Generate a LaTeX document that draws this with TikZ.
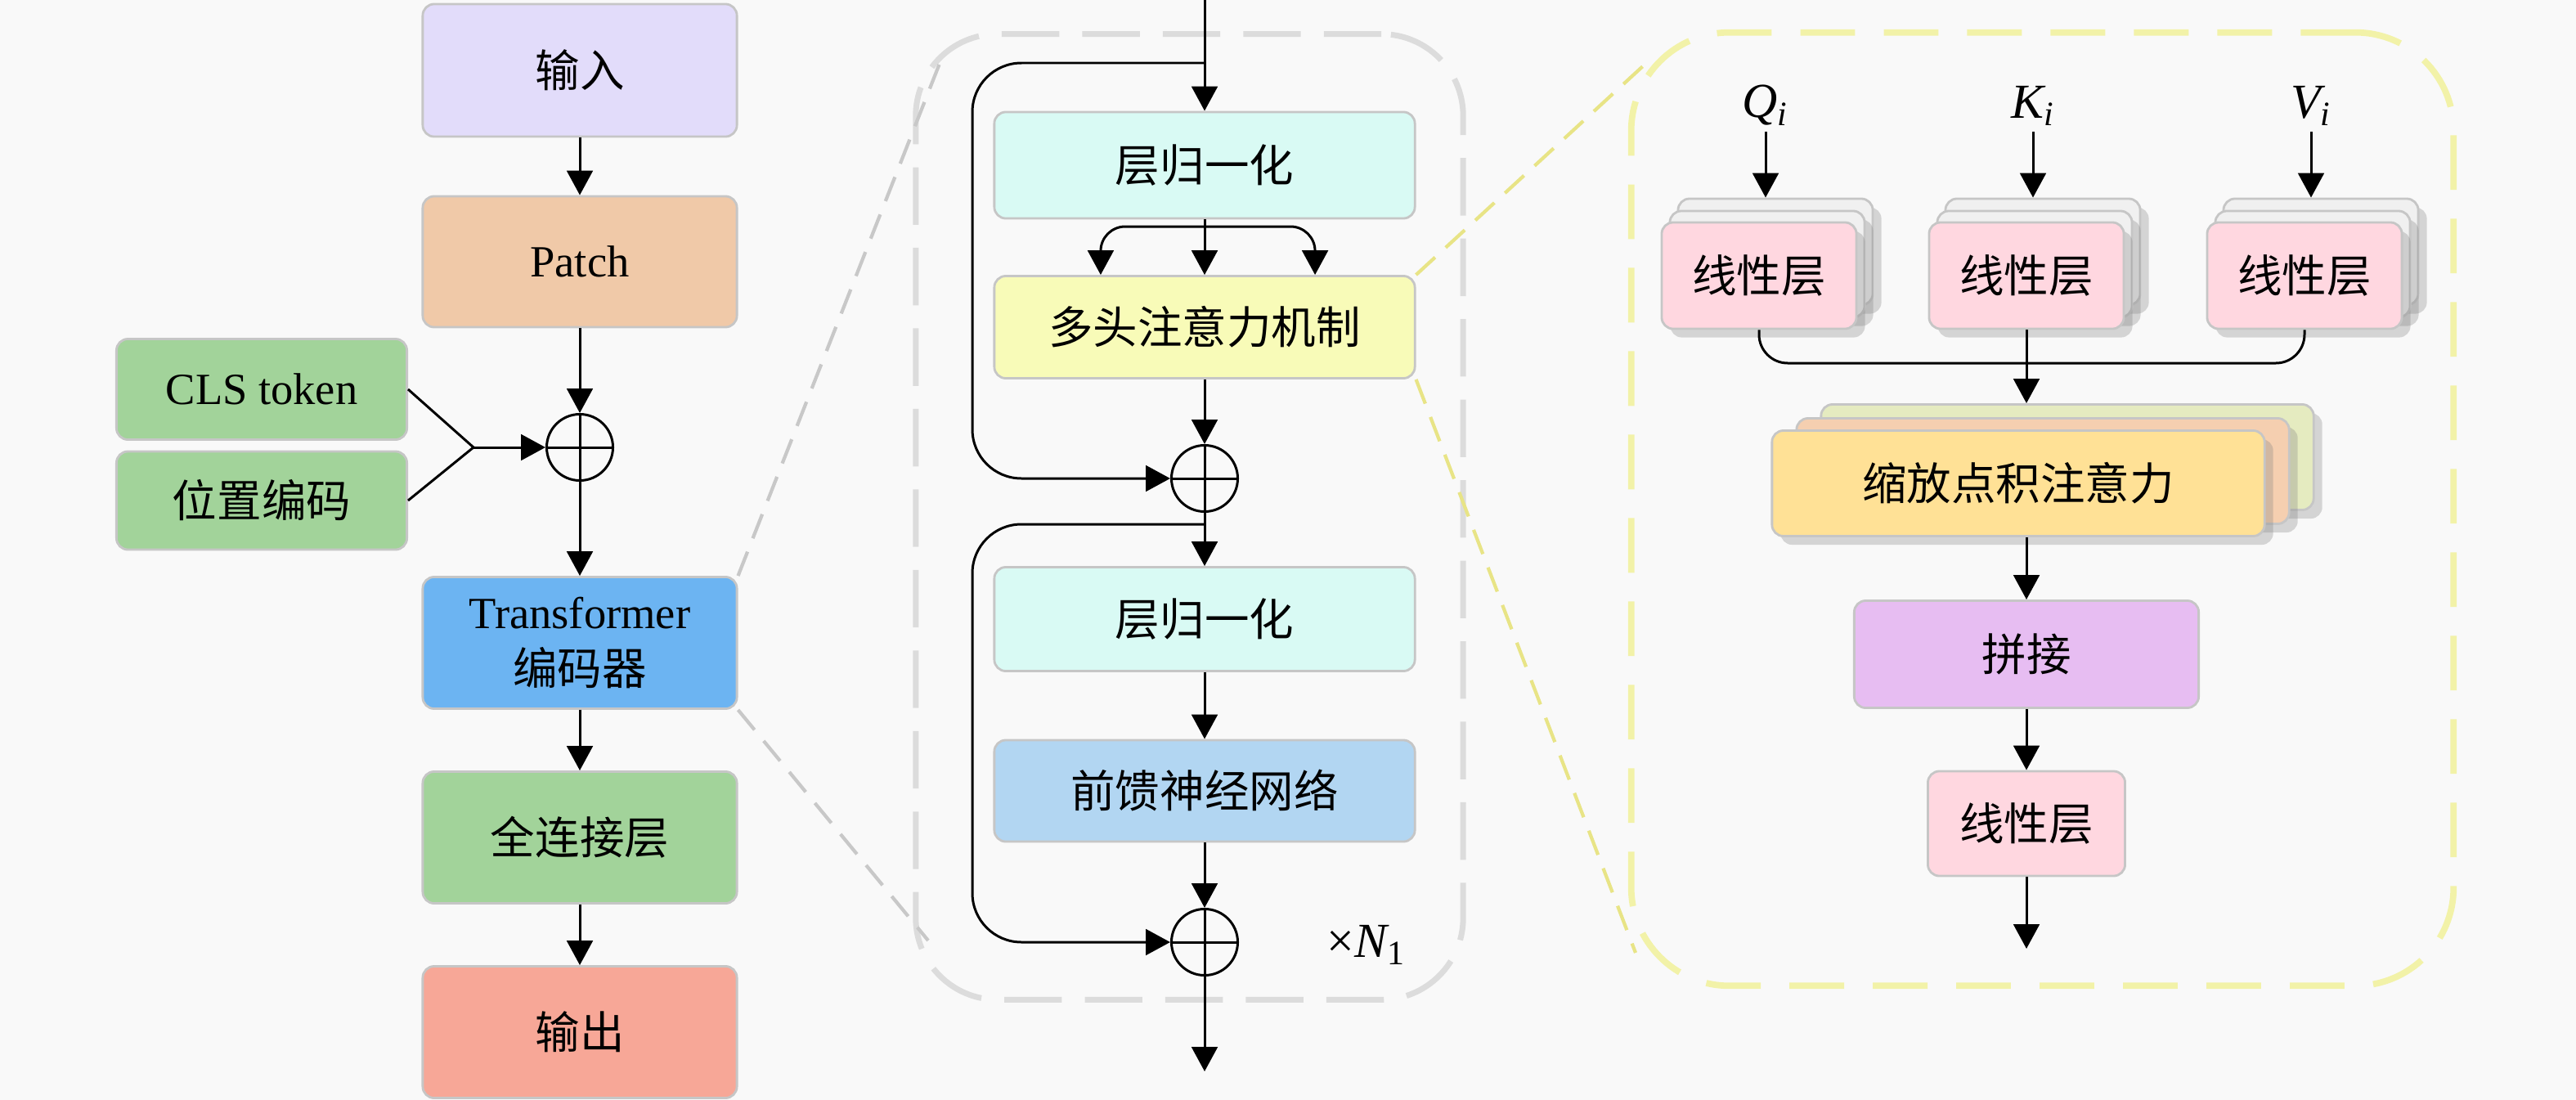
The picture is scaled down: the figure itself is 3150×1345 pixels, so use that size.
\documentclass[tikz,border=0pt]{standalone}
\usepackage{fontspec}
\setmainfont{Liberation Serif}
\newfontfamily\cjk{Noto Sans CJK SC}
\usetikzlibrary{arrows.meta,shadows}

\definecolor{bgc}{HTML}{F9F9F9}
\definecolor{inc}{HTML}{E2DCFA}
\definecolor{patchc}{HTML}{F0C9A8}
\definecolor{grnc}{HTML}{A2D39A}
\definecolor{transc}{HTML}{6CB4F2}
\definecolor{outc}{HTML}{F7A797}
\definecolor{lnc}{HTML}{D9FAF4}
\definecolor{mhac}{HTML}{F8FBB8}
\definecolor{ffnc}{HTML}{B2D6F2}
\definecolor{linc}{HTML}{FFD7E0}
\definecolor{sdf}{HTML}{FFE196}
\definecolor{sdm}{HTML}{F5CFB0}
\definecolor{sdb}{HTML}{E5EBC0}
\definecolor{catc}{HTML}{E7BDF2}
\definecolor{frmgc}{HTML}{DCDCDC}
\definecolor{frmyc}{HTML}{F2F2A8}
\definecolor{zoomgc}{HTML}{C8C8C8}
\definecolor{zoomyc}{HTML}{E8E486}

\begin{document}
\begin{tikzpicture}[x=0.01cm,y=-0.01cm]
  \tikzset{blk/.style={draw=gray!45,line width=0.8pt,rounded corners=4pt,inner sep=0pt,
      align=center,font=\fontsize{15.5}{19.5}\selectfont},
    lbl/.style={inner sep=2pt,font=\fontsize{17}{20}\selectfont},
    arr/.style={-{Triangle[width=9pt,length=8.5pt]},line width=0.85pt},
    ln/.style={line width=0.85pt},
    addc/.style={circle,draw,line width=0.85pt,minimum size=0.81cm,inner sep=0pt,fill=bgc,
      path picture={\draw[line width=0.85pt] (path picture bounding box.north) -- (path picture bounding box.south)
        (path picture bounding box.west) -- (path picture bounding box.east);}},
    shd/.style={drop shadow={shadow xshift=3pt,shadow yshift=-3pt,opacity=.3,fill=gray}},
    ghost/.style={blk,fill=gray!12,minimum width=2.38cm,minimum height=1.3cm,shd},
    frmg/.style={draw=frmgc,line width=2pt,dash pattern=on 20pt off 8pt,rounded corners=1cm},
    frmy/.style={draw=frmyc,line width=2.2pt,dash pattern=on 19pt off 10pt,rounded corners=1.2cm},
    zoomg/.style={draw=zoomgc,line width=1.2pt,dash pattern=on 9pt off 5pt},
    zoomy/.style={draw=zoomyc,line width=1.2pt,dash pattern=on 9pt off 5pt}}

  \fill[bgc] (0,0) rectangle (3150,1345);
  \useasboundingbox (0,0) rectangle (3150,1345);

  \node[frmg,minimum width=6.69cm,minimum height=11.8cm] (encfrm) at (1454.5,632) {};
  \node[frmy,minimum width=10.05cm,minimum height=11.65cm] (attfrm) at (2497.5,622.5) {};

  % left column
  \node[blk,fill=inc,minimum width=3.84cm,minimum height=1.62cm] (inp) at (709,86) {\cjk 输入};
  \node[blk,fill=patchc,minimum width=3.84cm,minimum height=1.6cm] (patch) at (709,320) {Patch};
  \node[addc] (add0) at (709,547) {};
  \node[blk,fill=grnc,minimum width=3.55cm,minimum height=1.23cm] (cls) at (320,476) {CLS token};
  \node[blk,fill=grnc,minimum width=3.55cm,minimum height=1.2cm] (pos) at (320,612) {\cjk 位置编码};
  \node[blk,fill=transc,minimum width=3.84cm,minimum height=1.61cm] (trans) at (709,786) {Transformer\\{\cjk 编码器}};
  \node[blk,fill=grnc,minimum width=3.84cm,minimum height=1.61cm] (fc) at (709,1024) {\cjk 全连接层};
  \node[blk,fill=outc,minimum width=3.84cm,minimum height=1.61cm] (outp) at (709,1262) {\cjk 输出};
  \coordinate (jn) at (579,547);

  \draw[arr] (inp) -- (patch);
  \draw[arr] (patch) -- (add0);
  \draw[ln] (cls.east) -- (jn) -- (pos.east);
  \draw[arr] (jn) -- (add0);
  \draw[arr] (add0) -- (trans);
  \draw[arr] (trans) -- (fc);
  \draw[arr] (fc) -- (outp);

  % encoder block
  \node[blk,fill=lnc,minimum width=5.14cm,minimum height=1.3cm] (ln1) at (1473,202) {\cjk 层归一化};
  \node[blk,fill=mhac,minimum width=5.14cm,minimum height=1.25cm] (mha) at (1473,400) {\cjk 多头注意力机制};
  \node[addc] (add1) at (1473,585) {};
  \node[blk,fill=lnc,minimum width=5.14cm,minimum height=1.27cm] (ln2) at (1473,757) {\cjk 层归一化};
  \node[blk,fill=ffnc,minimum width=5.14cm,minimum height=1.24cm] (ffn) at (1473,967) {\cjk 前馈神经网络};
  \node[addc] (add2) at (1473,1152) {};
  \node[lbl] (rep) at (1671,1155) {×{\itshape N}\textsubscript{1}};
  \coordinate (top) at (1473,0);
  \coordinate (br1) at (1473,77);
  \coordinate (fork) at (1473,277);
  \coordinate (br2) at (1473,641);
  \coordinate (bot) at (1473,1310);

  \draw[arr] (top) -- (ln1);
  \draw[arr,rounded corners=0.6cm] (br1) -- (1189,77) |- (add1);
  \draw[arr] (ln1) -- (mha);
  \draw[arr,rounded corners=0.3cm] (fork) -| ([xshift=-1.27cm]mha.north);
  \draw[arr,rounded corners=0.3cm] (fork) -| ([xshift=1.35cm]mha.north);
  \draw[arr] (mha) -- (add1);
  \draw[arr] (add1) -- (ln2);
  \draw[arr,rounded corners=0.6cm] (br2) -- (1189,641) |- (add2);
  \draw[arr] (ln2) -- (ffn);
  \draw[arr] (ffn) -- (add2);
  \draw[arr] (add2) -- (bot);

  % zoom lines
  \coordinate (gz1) at (1152,70);
  \coordinate (gz2) at (1135,1150);
  \coordinate (yz1) at (2010,80);
  \coordinate (yz2) at (2000,1165);
  \draw[zoomg] (trans.north east) -- (gz1);
  \draw[zoomg] (trans.south east) -- (gz2);
  \draw[zoomy] (mha.north east) -- (yz1);
  \draw[zoomy] (mha.south east) -- (yz2);

  % attention block
  \foreach \n/\x/\lab in {q/2151/Q,k/2478/K,v/2818/V}{
    \node[ghost] (\n2) at (\x+20,308) {};
    \node[ghost] (\n1) at (\x+10,323) {};
    \node[blk,fill=linc,minimum width=2.38cm,minimum height=1.3cm,shd] (\n) at (\x,337) {\cjk 线性层};
    \node[lbl] (\n in) at (\x+8,129) {{\itshape \lab}\textsubscript{\itshape i}};
    \draw[arr] (\n in.south) -- (\n in.south |- \n2.north);
  }
  \node[blk,fill=sdb,minimum width=6.02cm,minimum height=1.29cm,shd] (s2) at (2528,559) {};
  \node[blk,fill=sdm,minimum width=6.02cm,minimum height=1.29cm,shd] (s1) at (2498,576) {};
  \node[blk,fill=sdf,minimum width=6.02cm,minimum height=1.29cm,shd] (sdpa) at (2468,591) {\cjk 缩放点积注意力};
  \node[blk,fill=catc,minimum width=4.21cm,minimum height=1.31cm] (cat) at (2478,800) {\cjk 拼接};
  \node[blk,fill=linc,minimum width=2.41cm,minimum height=1.28cm] (lin) at (2478,1007) {\cjk 线性层};
  \coordinate (mrg) at (2478,444);
  \coordinate (fin) at (2478,1160);

  \draw[ln,rounded corners=0.35cm] (q.south) |- (mrg) -| (v.south);
  \draw[arr] (k.south) -- (k.south |- s2.north);
  \draw[arr] (sdpa.south -| cat) -- (cat);
  \draw[arr] (cat) -- (lin);
  \draw[arr] (lin) -- (fin);
\end{tikzpicture}
\end{document}
